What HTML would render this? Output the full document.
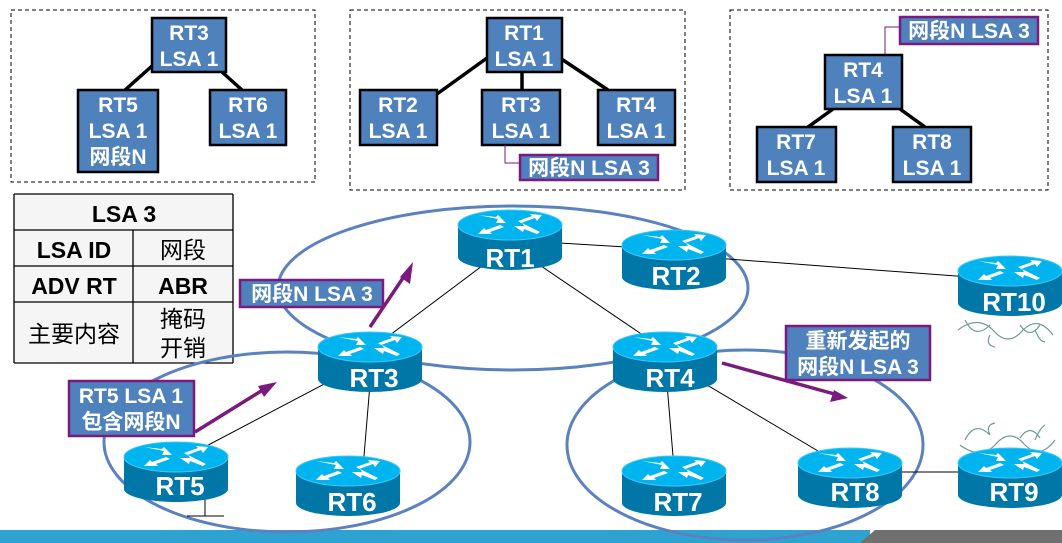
<!DOCTYPE html>
<html><head><meta charset="utf-8"><style>
html,body{margin:0;padding:0;background:#fff;}
svg{display:block;font-family:"Liberation Sans","Noto Sans CJK SC",sans-serif;}
.nb{fill:#4f81bd;stroke:#000;stroke-width:2.5;}
.nt{fill:#fff;font-weight:bold;font-size:21px;text-anchor:middle;}
.lb{fill:#4f81bd;stroke:#7b1a7e;stroke-width:2.5;}
.rl{fill:#fff;font-weight:bold;font-size:26px;text-anchor:middle;}
.tt{font-size:23px;text-anchor:middle;fill:#000;}
</style></head><body>
<svg width="1062" height="543" viewBox="0 0 1062 543" xmlns="http://www.w3.org/2000/svg">
<defs>
<g id="r">
<path d="M-52,0 L-52,32 A52,13 0 0 0 52,32 L52,0 Z" fill="#0077a6"/>
<ellipse cx="0" cy="0" rx="52" ry="15" fill="#00b4f0" stroke="#3fc7f5" stroke-width="1"/>
<g fill="#fff">
<path d="M-32,-10 L-12,-6 L-14,-2 L-4,-2 L-12,-10 L-14,-8 Z"/>
<path d="M8,-4 L22,-9 L20,-11 L32,-10 L27,-4 L25,-7 L11,-2Z"/>
<path d="M-6,2 L-20,7 L-18,9 L-32,9 L-26,3 L-24,5 L-10,0Z"/>
<path d="M4,1 L14,1 L12,-2 L30,7 L27,9 L14,4 L13,7Z"/>
</g>
</g>
</defs>

<g fill="none" stroke="#000" stroke-width="1" stroke-dasharray="4,3">
<rect x="11" y="10" width="304" height="172"/>
<rect x="350" y="10" width="335" height="180"/>
<rect x="730" y="10" width="318" height="180"/>
</g>

<g stroke="#000" stroke-width="3.5">
<line x1="152" y1="66" x2="125" y2="90"/><line x1="222" y1="72" x2="242" y2="90"/>
<line x1="487" y1="58" x2="437" y2="94"/><line x1="522" y1="72" x2="522" y2="90"/><line x1="560" y1="58" x2="608" y2="90"/>
<line x1="833" y1="109" x2="808" y2="127"/><line x1="900" y1="109" x2="925" y2="127"/>
</g>
<rect class="nb" x="152" y="18" width="74" height="54"/>
<text class="nt" x="189" y="40">RT3</text><text class="nt" x="189" y="66">LSA 1</text>
<rect class="nb" x="78" y="90" width="80" height="82"/>
<text class="nt" x="118" y="112">RT5</text><text class="nt" x="118" y="138">LSA 1</text><text class="nt" x="118" y="164">网段N</text>
<rect class="nb" x="210" y="90" width="76" height="55"/>
<text class="nt" x="248" y="112">RT6</text><text class="nt" x="248" y="138">LSA 1</text>

<rect class="nb" x="487" y="18" width="75" height="54"/>
<text class="nt" x="524" y="40">RT1</text><text class="nt" x="524" y="66">LSA 1</text>
<rect class="nb" x="360" y="90" width="77" height="55"/>
<text class="nt" x="398" y="112">RT2</text><text class="nt" x="398" y="138">LSA 1</text>
<rect class="nb" x="482" y="90" width="78" height="55"/>
<text class="nt" x="521" y="112">RT3</text><text class="nt" x="521" y="138">LSA 1</text>
<rect class="nb" x="598" y="90" width="77" height="55"/>
<text class="nt" x="636" y="112">RT4</text><text class="nt" x="636" y="138">LSA 1</text>
<polyline points="505,145 505,163 520,163" fill="none" stroke="#7b1a7e" stroke-width="1"/>
<rect class="lb" x="520" y="155" width="138" height="25"/>
<text class="nt" x="589" y="175">网段N LSA 3</text>

<polyline points="885,55 885,27 900,27" fill="none" stroke="#7b1a7e" stroke-width="1"/>
<rect class="lb" x="900" y="17" width="138" height="27"/>
<text class="nt" x="969" y="38">网段N LSA 3</text>
<rect class="nb" x="825" y="55" width="77" height="54"/>
<text class="nt" x="863" y="77">RT4</text><text class="nt" x="863" y="103">LSA 1</text>
<rect class="nb" x="757" y="127" width="79" height="55"/>
<text class="nt" x="796" y="149">RT7</text><text class="nt" x="796" y="175">LSA 1</text>
<rect class="nb" x="893" y="127" width="78" height="55"/>
<text class="nt" x="932" y="149">RT8</text><text class="nt" x="932" y="175">LSA 1</text>

<g>
<rect x="14" y="194" width="219" height="168" fill="#f5f5f5"/>
<g stroke="#000" stroke-width="1.3" fill="none">
<line x1="14" y1="194" x2="233" y2="194"/><line x1="14" y1="230" x2="233" y2="230"/>
<line x1="14" y1="266" x2="233" y2="266"/><line x1="14" y1="302" x2="233" y2="302"/>
<line x1="14" y1="363" x2="233" y2="363"/>
<line x1="14" y1="194" x2="14" y2="363"/><line x1="233" y1="194" x2="233" y2="363"/>
<line x1="133" y1="230" x2="133" y2="363"/>
</g>
<text class="tt" x="124" y="222" font-weight="bold" font-size="25">LSA 3</text>
<text class="tt" x="74" y="258" font-weight="bold">LSA ID</text>
<text class="tt" x="183" y="258">网段</text>
<text class="tt" x="74" y="294" font-weight="bold">ADV RT</text>
<text class="tt" x="183" y="294" font-weight="bold">ABR</text>
<text class="tt" x="74" y="342">主要内容</text>
<text class="tt" x="183" y="327">掩码</text>
<text class="tt" x="183" y="356">开销</text>
</g>

<rect x="0" y="530" width="870" height="13" fill="#2ea3d2"/>
<polygon points="860,543 875,530 1062,530 1062,543" fill="#707070"/>

<g fill="none" stroke="#5b82bf" stroke-width="3">
<ellipse cx="513" cy="288" rx="235" ry="82"/>
<ellipse cx="287" cy="442" rx="183" ry="90"/>
<ellipse cx="745" cy="445" rx="178" ry="95"/>
</g>

<g stroke="#000" stroke-width="1">
<line x1="510" y1="245" x2="370" y2="350"/>
<line x1="510" y1="245" x2="665" y2="350"/>
<line x1="510" y1="240" x2="674" y2="250"/>
<line x1="674" y1="255" x2="1010" y2="280"/>
<line x1="370" y1="360" x2="176" y2="462"/>
<line x1="372" y1="360" x2="362" y2="480"/>
<line x1="665" y1="360" x2="675" y2="480"/>
<line x1="665" y1="360" x2="850" y2="470"/>
<line x1="850" y1="472" x2="1010" y2="472"/>
<line x1="205" y1="495" x2="205" y2="516"/>
<line x1="187" y1="516" x2="224" y2="516"/>
</g>

<g fill="none" stroke="#6f9a9a" stroke-width="1.2">
<path d="M958,330 q20,-15 35,0 q15,18 30,0 q15,-15 30,5 M965,320 q10,20 25,5 M1020,325 q10,15 20,0 M990,335 q-5,10 5,12 M1035,330 q5,12 10,12"/>
<path d="M960,445 q20,15 35,0 q15,-18 30,0 q15,15 30,-5 M965,440 q10,-20 25,-5 M1020,438 q10,-15 20,0 M990,435 q-5,-10 5,-12 M1035,440 q5,-12 10,-15"/>
</g>

<use href="#r" x="510" y="225"/><text class="rl" x="510" y="267">RT1</text>
<use href="#r" x="674" y="245"/><text class="rl" x="676" y="285">RT2</text>
<use href="#r" x="370" y="347"/><text class="rl" x="374" y="387">RT3</text>
<use href="#r" x="665" y="347"/><text class="rl" x="670" y="387">RT4</text>
<use href="#r" x="176" y="457"/><text class="rl" x="180" y="495">RT5</text>
<use href="#r" x="348" y="471"/><text class="rl" x="352" y="511">RT6</text>
<use href="#r" x="674" y="471"/><text class="rl" x="678" y="511">RT7</text>
<use href="#r" x="850" y="463"/><text class="rl" x="855" y="501">RT8</text>
<use href="#r" x="1010" y="463"/><text class="rl" x="1014" y="501">RT9</text>
<use href="#r" x="1010" y="271"/><text class="rl" x="1014" y="311">RT10</text>

<g stroke="#7b1a7e" stroke-width="3.5" fill="#7b1a7e">
<line x1="370" y1="327" x2="407" y2="272"/>
<polygon points="413,262 410,284 400,277" stroke="none"/>
<line x1="195" y1="432" x2="266" y2="388"/>
<polygon points="277,382 264,397 258,386" stroke="none"/>
<line x1="722" y1="363" x2="838" y2="395"/>
<polygon points="848,398 830,402 834,390" stroke="none"/>
</g>

<rect class="lb" x="240" y="280" width="143" height="27"/>
<text class="nt" x="312" y="301">网段N LSA 3</text>
<rect class="lb" x="69" y="381" width="125" height="55"/>
<text class="nt" x="131" y="403">RT5 LSA 1</text><text class="nt" x="131" y="429">包含网段N</text>
<rect class="lb" x="786" y="326" width="144" height="54"/>
<text class="nt" x="858" y="348">重新发起的</text><text class="nt" x="858" y="374">网段N LSA 3</text>
</svg>
</body></html>
